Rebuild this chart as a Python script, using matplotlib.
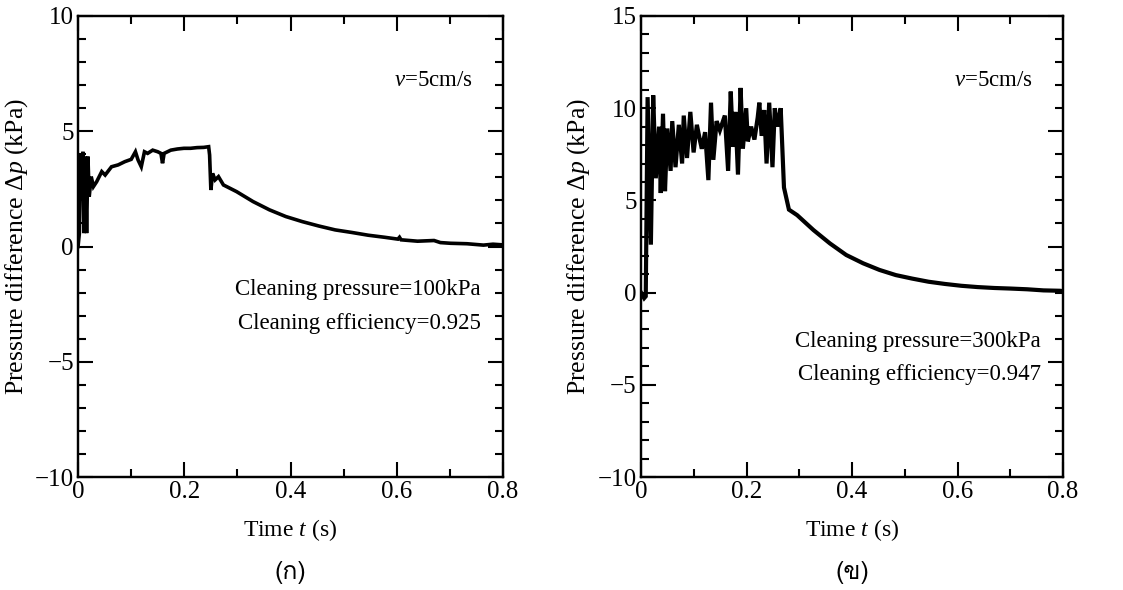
import matplotlib
matplotlib.use("Agg")
import matplotlib.pyplot as plt
from matplotlib import font_manager, ft2font
from matplotlib.ticker import MultipleLocator, NullFormatter

# (a) cleaning pressure 100 kPa
t_a = [0, 0.0025, 0.005, 0.0074, 0.0093, 0.0111, 0.0136, 0.0161, 0.0186, 0.021,
       0.0248, 0.029, 0.035, 0.0446, 0.051, 0.063, 0.0755, 0.088, 0.100, 0.108,
       0.113, 0.119, 0.125, 0.131, 0.1405, 0.150, 0.156, 0.159, 0.162, 0.1746,
       0.187, 0.1993, 0.2117, 0.224, 0.2365, 0.2458, 0.2476, 0.250, 0.2532, 0.258,
       0.2643, 0.2736, 0.2984, 0.3293, 0.3603, 0.391, 0.422, 0.453, 0.484, 0.515,
       0.546, 0.577, 0.602, 0.605, 0.608, 0.639, 0.670, 0.682, 0.701, 0.732,
       0.763, 0.781, 0.800]
dp_a = [0, 0.58, 4.04, 2.6, 4.11, 0.58, 3.9, 0.58, 3.9, 2.16,
        3.03, 2.6, 2.81, 3.25, 3.1, 3.46, 3.54, 3.68, 3.78, 4.11,
        3.75, 3.46, 4.11, 4.04, 4.18, 4.11, 4.04, 3.61, 4.04, 4.18,
        4.23, 4.26, 4.26, 4.29, 4.30, 4.33, 3.97, 2.45, 3.17, 2.89,
        3.03, 2.67, 2.38, 1.95, 1.59, 1.30, 1.08, 0.89, 0.72, 0.61,
        0.49, 0.40, 0.32, 0.40, 0.29, 0.23, 0.26, 0.17, 0.14, 0.12,
        0.06, 0.10, 0.07]

# (b) cleaning pressure 300 kPa
t_b = [0, 0.006, 0.009, 0.0125, 0.0187, 0.0231, 0.0280, 0.0343, 0.0374, 0.0417,
       0.0455, 0.0498, 0.0561, 0.0592, 0.0654, 0.0717, 0.0779, 0.0810, 0.0872, 0.0935,
       0.0997, 0.1059, 0.1121, 0.1153, 0.1215, 0.1277, 0.1327, 0.1371, 0.1433, 0.1495,
       0.1589, 0.1651, 0.1701, 0.1745, 0.1788, 0.1838, 0.1888, 0.1931, 0.1994, 0.2025,
       0.2087, 0.2150, 0.2212, 0.2243, 0.2287, 0.2336, 0.2380, 0.2430, 0.2492, 0.2536,
       0.2586, 0.2648, 0.2710, 0.2804, 0.296, 0.327, 0.358, 0.389, 0.421, 0.452,
       0.483, 0.514, 0.545, 0.576, 0.607, 0.638, 0.670, 0.700, 0.732, 0.763,
       0.794, 0.800]
dp_b = [0, -0.3, -0.2, 10.6, 2.6, 10.7, 6.2, 9.0, 5.4, 9.7,
        5.5, 8.9, 6.6, 9.3, 6.8, 9.1, 7.0, 9.6, 7.3, 9.8,
        7.6, 9.1, 8.2, 7.8, 8.7, 6.1, 10.3, 7.2, 9.3, 8.8,
        9.6, 6.6, 10.9, 7.9, 9.8, 6.4, 11.1, 7.8, 10.0, 8.2,
        9.0, 8.3, 9.5, 10.3, 8.5, 9.9, 7.0, 10.3, 6.8, 10.0,
        9.0, 10.0, 5.7, 4.5, 4.2, 3.39, 2.67, 2.04, 1.59, 1.23,
        0.95, 0.76, 0.59, 0.47, 0.37, 0.30, 0.25, 0.22, 0.18, 0.12,
        0.10, 0.08]

panels = ["(ก)", "(ข)"]
pressures = ["Cleaning pressure=100kPa", "Cleaning pressure=300kPa"]
efficiencies = ["Cleaning efficiency=0.925", "Cleaning efficiency=0.947"]


def thai_font():
    for f in font_manager.fontManager.ttflist:
        try:
            if 0x0E01 in ft2font.FT2Font(f.fname).get_charmap():
                return f.name
        except Exception:
            pass
    return "DejaVu Sans"


plt.rcParams["font.family"] = "Liberation Serif"
plt.rcParams["mathtext.fontset"] = "custom"
plt.rcParams["mathtext.rm"] = "Liberation Serif"
plt.rcParams["mathtext.it"] = "Liberation Serif:italic"
plt.rcParams["font.size"] = 16.5

fig = plt.figure(figsize=(11.23, 5.90), dpi=100)
ax_a = fig.add_axes([0.0695, 0.1915, 0.3785, 0.7814])
ax_b = fig.add_axes([0.5708, 0.1915, 0.3758, 0.7814])


def style(ax, ylim, major, minor, labels=True):
    ax.set_xlim(0, 0.8)
    ax.set_ylim(*ylim)
    ax.xaxis.set_major_locator(MultipleLocator(0.2))
    ax.xaxis.set_minor_locator(MultipleLocator(0.1))
    ax.yaxis.set_major_locator(MultipleLocator(major))
    ax.yaxis.set_minor_locator(MultipleLocator(minor))
    ax.tick_params(which="both", direction="in", width=1.5, pad=3, labelsize=18)
    ax.tick_params(which="major", length=11)
    ax.tick_params(which="minor", length=5.5)
    for s in ax.spines.values():
        s.set_linewidth(1.6)
    ax.xaxis.set_major_formatter(plt.FuncFormatter(lambda v, p: f"{v:g}"))
    if not labels:
        ax.yaxis.set_major_formatter(NullFormatter())


ylims = [(-10, 10), (-10, 15)]
for i, (ax, t, dp) in enumerate([(ax_a, t_a, dp_a), (ax_b, t_b, dp_b)]):
    style(ax, ylims[i], 5, 1)
    ax.tick_params(top=True, which="both")
    ax.plot(t, dp, color="black", lw=3.0 if i else 2.6, solid_joinstyle="miter")

    # right spine ticks follow a -10..10 scale in both panels
    tw = ax.twinx()
    style(tw, (-10, 10), 5, 1, labels=False)
    tw.tick_params(left=False, which="both")

    ax.set_xlabel("Time $t$ (s)", labelpad=10, fontsize=17)
    ax.set_ylabel(r"Pressure difference $\Delta p$ (kPa)", fontsize=18.5)
    ax.yaxis.set_label_coords(-0.113 if i == 0 else -0.116, 0.5)

    ax.text(0.929, 0.861, "$v$=5cm/s", transform=ax.transAxes, ha="right", va="center")
    py = [0.406, 0.293][i]
    ey = [0.334, 0.223][i]
    ax.text(0.948, py, pressures[i], transform=ax.transAxes, ha="right", va="center")
    ax.text(0.948, ey, efficiencies[i], transform=ax.transAxes, ha="right", va="center")

thai = thai_font()
fig.text(290.5 / 1123, 1 - 572 / 590, panels[0], ha="center", va="center",
         family=[thai, "DejaVu Sans"], fontsize=18)
fig.text(852 / 1123, 1 - 572 / 590, panels[1], ha="center", va="center",
         family=[thai, "DejaVu Sans"], fontsize=18)

fig.savefig("out.png", dpi=100)
